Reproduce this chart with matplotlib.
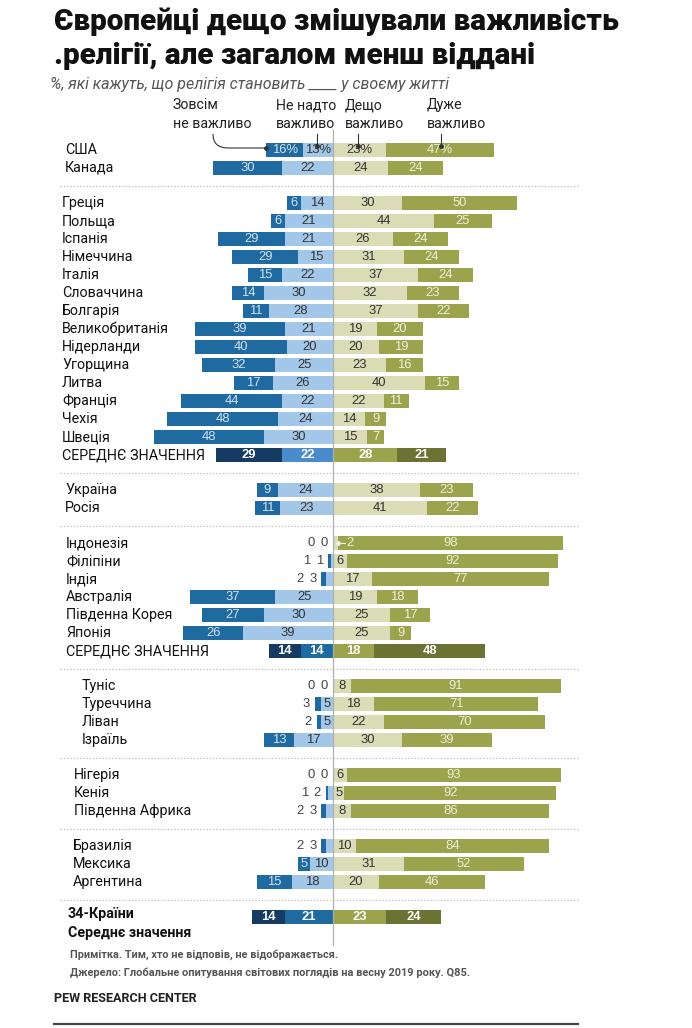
import matplotlib
matplotlib.use('Agg')
import matplotlib.pyplot as plt
from matplotlib import font_manager as fm
from matplotlib.path import Path
from matplotlib.patches import PathPatch

# ---------------- data ----------------
countries = ['США', 'Канада',
             'Греція', 'Польща', 'Іспанія', 'Німеччина', 'Італія', 'Словаччина', 'Болгарія',
             'Великобританія', 'Нідерланди', 'Угорщина', 'Литва', 'Франція', 'Чехія', 'Швеція',
             'СЕРЕДНЄ ЗНАЧЕННЯ',
             'Україна', 'Росія',
             'Індонезія', 'Філіпіни', 'Індія', 'Австралія', 'Південна Корея', 'Японія',
             'СЕРЕДНЄ ЗНАЧЕННЯ',
             'Туніс', 'Туреччина', 'Ліван', 'Ізраїль',
             'Нігерія', 'Кенія', 'Південна Африка',
             'Бразилія', 'Мексика', 'Аргентина',
             '34-Країни\nСереднє значення']
not_at_all = [16, 30, 6, 6, 29, 29, 15, 14, 11, 39, 40, 32, 17, 44, 48, 48, 29, 9, 11,
              0, 1, 2, 37, 27, 26, 14, 0, 3, 2, 13, 0, 1, 2, 2, 5, 15, 14]
not_too = [13, 22, 14, 21, 21, 15, 22, 30, 28, 21, 20, 25, 26, 22, 24, 30, 22, 24, 23,
           0, 1, 3, 25, 30, 39, 14, 0, 5, 5, 17, 0, 2, 3, 3, 10, 18, 21]
somewhat = [23, 24, 30, 44, 26, 31, 37, 32, 37, 19, 20, 23, 40, 22, 14, 15, 28, 38, 41,
            2, 6, 17, 19, 25, 25, 18, 8, 18, 22, 30, 6, 5, 8, 10, 31, 20, 23]
very = [47, 24, 50, 25, 24, 24, 24, 23, 22, 20, 19, 16, 15, 11, 9, 7, 21, 23, 22,
        98, 92, 77, 18, 17, 9, 48, 91, 71, 70, 39, 93, 92, 86, 84, 52, 46, 24]
group = [0, 0] + [1] * 15 + [2, 2] + [3] * 7 + [4] * 4 + [5] * 3 + [6] * 3 + [7]
avg_kind = [None] * 16 + ['eu'] + [None] * 8 + ['ap'] + [None] * 10 + ['all']
headers = ['Зовсім\nне важливо', 'Не надто\nважливо', 'Дещо\nважливо', 'Дуже\nважливо']

title1 = 'Європейці дещо змішували важливість'
title2 = '.релігії, але загалом менш віддані'
subtitle = '%, які кажуть, що релігія становить ____ у своєму житті'
note = 'Примітка. Тим, хто не відповів, не відображається.'
source = 'Джерело: Глобальне опитування світових поглядів на весну 2019 року. Q85.'
credit = 'PEW RESEARCH CENTER'

# ---------------- style ----------------
avail = {f.name for f in fm.fontManager.ttflist}
def pick(*names):
    for n in names:
        if n in avail:
            return n
    return 'DejaVu Sans'
NARROW = pick('Roboto', 'DejaVu Sans')
NUM = pick('Liberation Sans', 'Roboto', 'DejaVu Sans')

C_NAT, C_NTI, C_SW, C_VI = '#1f6aa1', '#a3c7e9', '#d9dcb5', '#9ba34d'
T_NAT, T_NTI, T_SW, T_VI = '#d3e2f1', '#333333', '#333333', '#eef0d8'
AVG_COLS = {'eu': ['#163b63', '#4a8bcc', '#9ba34d', '#6b7334'],
            'ap': ['#163b63', '#1f6aa1', '#9ba34d', '#6b7334'],
            'all': ['#163b63', '#1f6aa1', '#9ba34d', '#6b7334']}

S = 2.3      # pixels per percentage point
CX = 333     # centre line in pixels
W, H = 692, 1028
def px(x):
    return (x - CX) / S

fig = plt.figure(figsize=(W / 100, H / 100), dpi=100)
ax = fig.add_axes([0, 0, 1, 1])
ax.set_xlim(px(0), px(W))
ax.set_ylim(H, 0)
ax.axis('off')

ROW0, ROWH, GAP, BARH = 150, 18, 17, 14
label_x = [65, 62, 65, 66, 82, 74, 73, 68]
ys = [ROW0 + ROWH * i + GAP * g for i, g in enumerate(group)]

NUMFS = 9.4
LABFS = 10.3

def t(x, y, s, **kw):
    return ax.text(x, y, s, va='center', **kw)

for i, name in enumerate(countries):
    y = ys[i]
    a, b, c, d = not_at_all[i], not_too[i], somewhat[i], very[i]
    kind = avg_kind[i]
    if kind:
        cols = AVG_COLS[kind]
        tcols = ['white'] * 4
        fw = 'bold'
    else:
        cols = [C_NAT, C_NTI, C_SW, C_VI]
        tcols = [T_NAT, T_NTI, T_SW, T_VI]
        fw = 'normal'
    ax.barh(y, a, left=-(a + b), height=BARH, color=cols[0], lw=0, zorder=2)
    ax.barh(y, b, left=-b, height=BARH, color=cols[1], lw=0, zorder=2)
    ax.barh(y, c, left=0, height=BARH, color=cols[2], lw=0, zorder=2)
    ax.barh(y, d, left=c, height=BARH, color=cols[3], lw=0, zorder=2)

    fmt = (lambda v: f'{v}%') if i == 0 else (lambda v: f'{v}')
    # left side labels
    cursor = -(a + b) - 2.2
    if b < 5:
        t(cursor, y, fmt(b), ha='right', color='#444444', fontsize=NUMFS, family=NUM, zorder=4)
        cursor -= 5.6
    else:
        t(-b / 2, y, fmt(b), ha='center', color=tcols[1], fontsize=NUMFS, family=NUM,
          weight=fw, zorder=4)
    if a < 5:
        t(cursor, y, fmt(a), ha='right', color='#444444', fontsize=NUMFS, family=NUM, zorder=4)
    else:
        t(-b - a / 2, y, fmt(a), ha='center', color=tcols[0], fontsize=NUMFS, family=NUM,
          weight=fw, zorder=4)
    # right side labels
    if c < 5:
        ax.plot([c, c + 3.4], [y, y], color=T_VI, lw=0.8, zorder=4)
        ax.plot([c], [y], 'o', ms=2.5, color=T_VI, zorder=4)
        t(c + 3.6, y, fmt(c), ha='left', color=T_VI, fontsize=NUMFS, family=NUM, zorder=4)
    else:
        t(c / 2, y, fmt(c), ha='center', color=tcols[2], fontsize=NUMFS, family=NUM,
          weight=fw, zorder=4)
    t(c + d / 2, y, fmt(d), ha='center', color=tcols[3], fontsize=NUMFS, family=NUM,
      weight=fw, zorder=4)

    # country label
    if kind == 'all':
        l1, l2 = name.split('\n')
        t(px(label_x[group[i]]), y - 3, l1, ha='left', fontsize=LABFS,
          family=NARROW, weight='bold', color='#111111')
        t(px(label_x[group[i]]), y + 16, l2, ha='left', fontsize=LABFS,
          family=NARROW, weight='bold', color='#111111')
    else:
        t(px(label_x[group[i]]), y, name, ha='left', fontsize=LABFS, family=NARROW,
          color='#111111')

# group separators
for i in range(1, len(group)):
    if group[i] != group[i - 1]:
        ysep = (ys[i - 1] + ys[i]) / 2
        ax.plot([px(60), px(578)], [ysep, ysep], ls=(0, (1, 1.6)), color='#bbbbbb',
                lw=0.9, zorder=1)

# centre line
ax.plot([0, 0], [130, 945], color='#b0b0b0', lw=0.9, zorder=3)

# headers
hdr_x = [173, 276, 345, 427]
for hx, h in zip(hdr_x, headers):
    ax.text(px(hx), 98, h, ha='left', va='top', fontsize=10.2, family=NARROW,
            color='#222222', linespacing=1.45)

# leader lines
verts = [(213, 134), (213, 148), (228, 148), (266, 148)]
codes = [Path.MOVETO, Path.CURVE3, Path.CURVE3, Path.LINETO]
pverts = [(px(x), y) for x, y in verts]
ax.add_patch(PathPatch(Path(pverts, codes), fill=False, ec='#333333', lw=0.8, zorder=5))
ax.plot([px(266)], [148], 'o', ms=2.5, color='#333333', zorder=5)
for lx in [317, 358, 441]:
    ax.plot([px(lx), px(lx)], [134, 146], color='#333333', lw=0.8, zorder=5)
    ax.plot([px(lx)], [146], 'o', ms=2.5, color='#333333', zorder=5)

# title & text
ax.text(px(54), 22, title1, ha='left', va='center', fontsize=21.4, weight='black',
        family=NARROW, color='#111111')
ax.text(px(54), 56, title2, ha='left', va='center', fontsize=21.4, weight='black',
        family=NARROW, color='#111111')
ax.text(px(50), 85, subtitle, ha='left', va='center', fontsize=11.5, style='italic',
        family=NARROW, color='#555555')
ax.text(px(70), 955, note, ha='left', va='center', fontsize=7.8, weight='bold',
        family=NARROW, color='#555555')
ax.text(px(70), 973, source, ha='left', va='center', fontsize=7.9, weight='bold',
        family=NARROW, color='#555555')
ax.text(px(54), 999, credit, ha='left', va='center', fontsize=9.1, weight='bold',
        family=NARROW, color='#222222')
ax.plot([px(54), px(578)], [1024, 1024], color='#444444', lw=1.6)

fig.savefig('out.png', dpi=100)
